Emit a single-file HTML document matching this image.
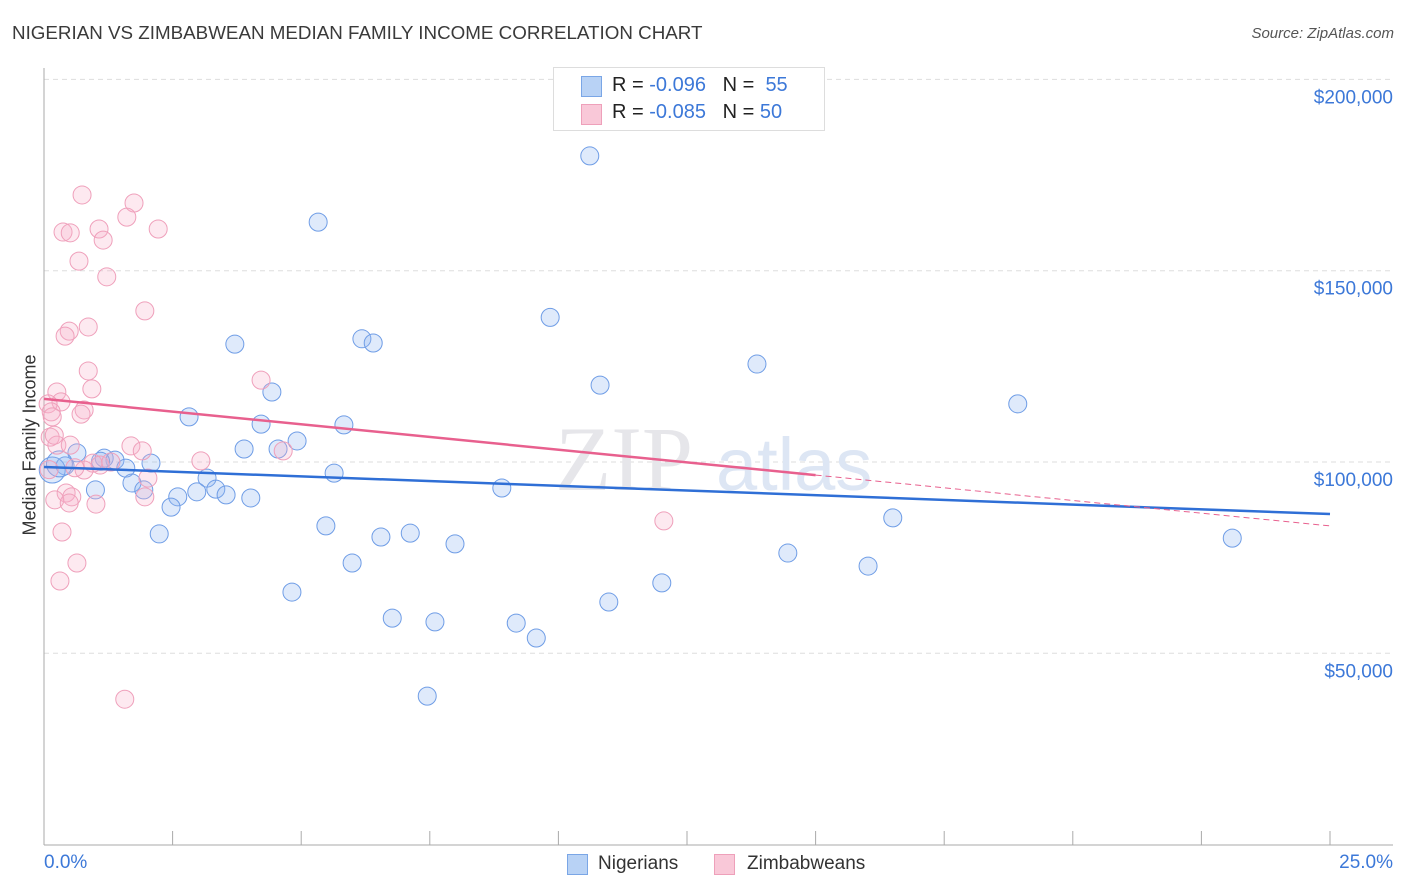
<!DOCTYPE html>
<html><head><meta charset="utf-8">
<style>
body{margin:0;background:#fff;font-family:"Liberation Sans",sans-serif;}
#wrap{position:relative;width:1406px;height:892px;overflow:hidden;}
.t{position:absolute;white-space:nowrap;}
</style></head>
<body>
<div id="wrap">
<div class="t" style="left:12px;top:22px;font-size:18.8px;color:#3a3a3a;">NIGERIAN VS ZIMBABWEAN MEDIAN FAMILY INCOME CORRELATION CHART</div>
<div class="t" style="right:12px;top:25px;font-size:15px;color:#555;font-style:italic;">Source: ZipAtlas.com</div>
<svg id="chart" width="1406" height="892" style="position:absolute;left:0;top:0"></svg>
</div>
<script>
const nigX=[10.61,5.33,9.84,3.71,6.18,6.40,13.86,10.81,4.43,18.93,2.82,4.22,5.83,4.92,3.89,4.55,0.64,1.17,1.38,0.41,0.16,1.59,2.08,5.64,3.17,1.71,1.0,1.94,3.34,2.97,3.54,2.6,4.02,8.9,2.47,16.5,5.48,2.24,6.55,7.12,23.1,7.99,14.46,5.99,16.02,12.01,4.82,10.98,6.77,7.6,9.18,9.57,7.45,0.3,1.1];
const nigY=[180000,162700,137800,130800,132200,131100,125600,120100,118300,115200,111800,109900,109700,105500,103400,103400,102400,101000,100500,99000,97900,98400,99700,97100,95800,94500,92700,92700,92900,92200,91400,90900,90600,93200,88200,85400,83300,81200,80400,81400,80100,78600,76200,73600,72800,68400,66000,63400,59200,58200,57900,54000,38800,99500,100200];
const zimX=[0.74,1.75,1.61,0.37,0.51,1.07,2.22,1.15,0.68,1.22,1.96,0.86,0.49,0.41,4.22,0.86,0.93,0.25,0.33,0.08,0.78,0.14,0.72,0.16,0.12,0.25,0.51,1.69,1.91,4.65,3.05,0.95,1.09,0.78,2.02,1.96,0.43,0.54,0.21,0.49,1.01,12.05,0.35,0.64,0.31,1.57,0.2,0.1,0.6,1.3];
const zimY=[169800,167700,164000,160100,159900,160900,160900,158000,152500,148400,139500,135300,134200,132900,121400,123800,119100,118300,115700,115200,113600,113100,112500,111800,106500,104400,104400,104200,102900,102900,100300,99700,99200,97900,95800,90900,91900,90900,90100,89300,89000,84600,81700,73600,68900,38000,107000,98000,98500,100000];
const trendNig=[98700,86400];
const trendZim=[116500,83300];
const yTicks=[50000,100000,150000,200000];
const yTickLabels=["$50,000","$100,000","$150,000","$200,000"];
const xTicks=[0,2.5,5,7.5,10,12.5,15,17.5,20,22.5,25];

const NS="http://www.w3.org/2000/svg";
const svg=document.getElementById('chart');
const xs=v=>44+v/25*1286;
const ys=v=>462-(v-100000)/50000*191.3;
function mk(tag,attrs,parent){const e=document.createElementNS(NS,tag);for(const k in attrs)e.setAttribute(k,attrs[k]);(parent||svg).appendChild(e);return e;}

yTicks.forEach((v,i)=>{
  const g=mk('line',{x1:44,x2:1393,y1:ys(v),y2:ys(v),stroke:'#ddd','stroke-dasharray':'5,4'});
  
  
  const t=mk('text',{x:1393,y:ys(v)+24,'text-anchor':'end','font-size':19,fill:'#3c78d8','font-family':'Liberation Sans, sans-serif'});
  t.textContent=yTickLabels[i];
  
  
});
const ax=mk('line',{x1:44,x2:44,y1:68,y2:845,stroke:'#aaa'});


const bx=mk('line',{x1:44,x2:1393,y1:845,y2:845,stroke:'#aaa'});


xTicks.forEach(v=>{
  const l=mk('line',{x1:xs(v),x2:xs(v),y1:831,y2:845,stroke:'#aaa'});
  
  
});
const wm=mk('text',{x:555,y:490,'text-anchor':'start','font-size':92,fill:'#e6e6ea','font-family':'Liberation Serif, serif'});
wm.textContent='ZIP';


const wm2=mk('text',{x:716,y:490,'text-anchor':'start','font-size':74,fill:'#dde6f4','font-family':'Liberation Sans, sans-serif'});
wm2.textContent='atlas';



nigX.forEach((x,i)=>{
  const c=mk('circle',{cx:xs(x),cy:ys(nigY[i]),r:(i==20||i==53)?13:9,fill:'rgba(140,180,240,0.28)',stroke:'#6f9de6','stroke-width':1});
  
  
});
zimX.forEach((x,i)=>{
  const c=mk('circle',{cx:xs(x),cy:ys(zimY[i]),r:9,fill:'rgba(248,175,200,0.28)',stroke:'#efa0bb','stroke-width':1});
  
  
});
const tn=mk('line',{x1:xs(0),y1:ys(trendNig[0]),x2:xs(25),y2:ys(trendNig[1]),stroke:'#2f6fd6','stroke-width':2.5});


const zAt=x=>trendZim[0]+(trendZim[1]-trendZim[0])*x/25;
const tz=mk('line',{x1:xs(0),y1:ys(zAt(0)),x2:xs(15),y2:ys(zAt(15)),stroke:'#e8608e','stroke-width':2.5});


const tz2=mk('line',{x1:xs(15),y1:ys(zAt(15)),x2:xs(25),y2:ys(zAt(25)),stroke:'#e8608e','stroke-width':1,'stroke-dasharray':'6,4'});


</script>
<div class="t" style="left:-50px;top:445px;width:160px;text-align:center;transform:rotate(-90deg);font-size:18px;color:#333;">Median Family Income</div>
<div class="t" style="left:44px;top:852px;font-size:19px;color:#3c78d8;">0.0%</div>
<div class="t" style="right:13px;top:852px;font-size:19px;color:#3c78d8;">25.0%</div>
<div style="position:absolute;left:553px;top:67px;width:270px;height:62px;border:1px solid #ddd;background:#fff;font-size:20px;">
 <div style="position:absolute;left:27px;top:8px;width:19px;height:19px;background:#b8d2f5;border:1px solid #7aa6e6;"></div>
 <div class="t" style="left:58px;top:6px;color:#222;">R = <span style="color:#3c78d8">-0.096</span> &nbsp;&nbsp;N = &nbsp;<span style="color:#3c78d8">55</span></div>
 <div style="position:absolute;left:27px;top:36px;width:19px;height:19px;background:#f9c8d8;border:1px solid #eea0ba;"></div>
 <div class="t" style="left:58px;top:33px;color:#222;">R = <span style="color:#3c78d8">-0.085</span> &nbsp;&nbsp;N = <span style="color:#3c78d8">50</span></div>
</div>
<div style="position:absolute;left:567px;top:853px;font-size:19px;color:#333;">
 <div style="position:absolute;left:0;top:1px;width:19px;height:19px;background:#b8d2f5;border:1px solid #7aa6e6;"></div>
 <span class="t" style="left:31px;top:0;">Nigerians</span>
</div>
<div style="position:absolute;left:714px;top:853px;font-size:19px;color:#333;">
 <div style="position:absolute;left:0;top:1px;width:19px;height:19px;background:#f9c8d8;border:1px solid #eea0ba;"></div>
 <span class="t" style="left:33px;top:0;">Zimbabweans</span>
</div>
</body></html>
